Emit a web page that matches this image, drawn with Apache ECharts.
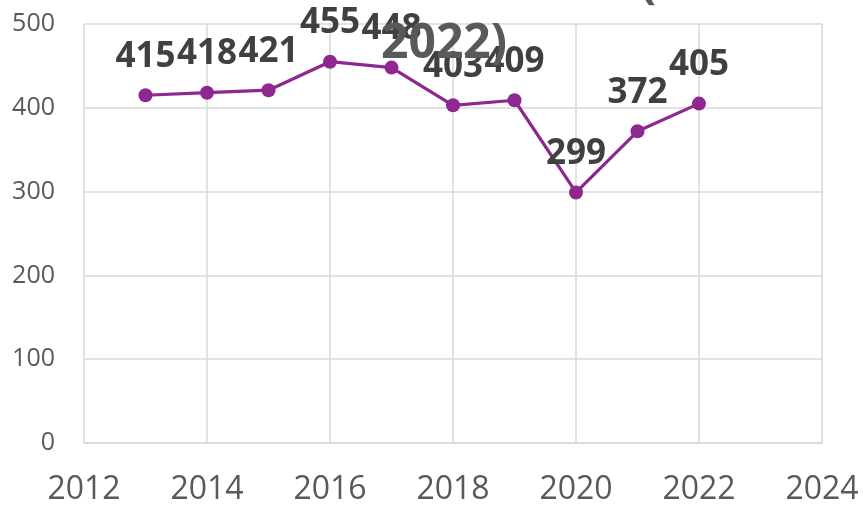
<!DOCTYPE html>
<html><head><meta charset="utf-8">
<script src="https://cdn.jsdelivr.net/npm/echarts@6/dist/echarts.min.js"></script>
<style>html,body{margin:0;padding:0;background:#fff}#c{width:863px;height:506px}</style>
</head><body><div id="c"></div>
<script>
const years = [2013, 2014, 2015, 2016, 2017, 2018, 2019, 2020, 2021, 2022];
const values = [415, 418, 421, 455, 448, 403, 409, 299, 372, 405];
const xTicks = [2012, 2014, 2016, 2018, 2020, 2022, 2024];
const yTicks = [0, 100, 200, 300, 400, 500];
const titleText = '2022)';

const chart = echarts.init(document.getElementById('c'), null, {renderer: 'canvas'});
chart.setOption({
  animation: false,
  title: {
    text: titleText, left: 376, top: 15, z: 10,
    textStyle: {fontFamily: 'Open Sans', fontWeight: 'bold', fontSize: 48, color: '#595959'}
  },
  graphic: [{
    type: 'text', left: 640, top: -40, z: 10,
    style: {text: '(', font: 'bold 48px "Open Sans"', fill: '#595959'}
  }],
  grid: {left: 84, right: 41, top: 24, bottom: 63},
  xAxis: {
    type: 'value', min: xTicks[0], max: xTicks[xTicks.length - 1], interval: 2,
    axisLine: {show: true, lineStyle: {color: '#d9d9d9', width: 1.5}},
    axisTick: {show: false},
    splitLine: {show: true, lineStyle: {color: '#d9d9d9', width: 1.5}},
    axisLabel: {color: '#595959', fontSize: 32, fontFamily: 'Open Sans', margin: 31,
      formatter: v => String(v)}
  },
  yAxis: {
    type: 'value', min: yTicks[0], max: yTicks[yTicks.length - 1], interval: 100,
    axisLine: {show: false}, axisTick: {show: false},
    splitLine: {show: true, lineStyle: {color: '#d9d9d9', width: 1.5}},
    axisLabel: {color: '#595959', fontSize: 25, fontFamily: 'Open Sans', margin: 29}
  },
  series: [{
    type: 'line',
    data: years.map((y, i) => [y, values[i]]),
    symbol: 'circle', symbolSize: 14,
    lineStyle: {color: '#8E278F', width: 3.2},
    itemStyle: {color: '#8E278F'},
    label: {show: true, position: 'top', distance: 14,
      fontFamily: 'Open Sans', fontWeight: 'bold', fontSize: 35, color: '#404040',
      formatter: p => String(p.value[1])}
  }]
});
</script></body></html>
